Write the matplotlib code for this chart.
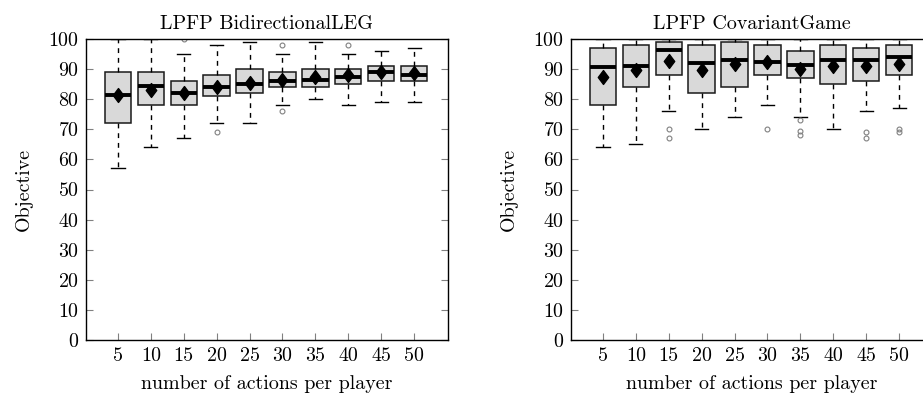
import matplotlib
matplotlib.use("Agg")
from matplotlib import pyplot as plt
from matplotlib.path import Path

plt.rcParams['font.family'] = 'serif'
plt.rcParams['font.serif'] = ['cmr10']
plt.rcParams['axes.formatter.use_mathtext'] = True

actions = [5, 10, 15, 20, 25, 30, 35, 40, 45, 50]

# LPFP BidirectionalLEG
leg_whislo = [57, 64, 67, 72, 72, 78, 80, 78, 79, 79]
leg_q1 = [72, 78, 78, 81, 82, 84, 84, 85, 86, 86]
leg_med = [81.3, 84.4, 82, 84, 85, 86, 86.5, 87.5, 89, 88.2]
leg_q3 = [89, 89, 86, 88, 90, 89, 90, 90, 91, 91]
leg_whishi = [100, 100, 95, 98, 99, 95, 99, 95, 96, 97]
leg_mean = [81.5, 83.2, 82.2, 84, 85.4, 86.3, 87.3, 87.9, 88.9, 88.6]
leg_fliers = [[], [], [100], [69], [], [98, 76], [], [98], [], []]

# LPFP CovariantGame
cov_whislo = [64, 65, 76, 70, 74, 78, 74, 70, 76, 77]
cov_q1 = [78, 84, 88, 82, 84, 88, 87, 85, 86, 88]
cov_med = [90.6, 91.1, 96.2, 92, 93, 92.5, 91.5, 93, 93, 94]
cov_q3 = [97, 98, 99, 98, 99, 98, 96, 98, 97, 98]
cov_whishi = [100, 100, 100, 100, 100, 100, 100, 100, 100, 100]
cov_mean = [87.3, 89.8, 92.8, 89.7, 91.8, 92.3, 89.9, 91.1, 90.9, 91.6]
cov_fliers = [[], [], [70, 67], [], [], [70], [73, 69.5, 68], [], [69, 67], [70, 69]]

diamond = Path([(0, 1), (0.75, 0), (0, -1), (-0.75, 0), (0, 1)],
               [Path.MOVETO, Path.LINETO, Path.LINETO, Path.LINETO, Path.CLOSEPOLY])

FS = 14.4


def draw(ax, title, whislo, q1, med, q3, whishi, mean, fliers):
    stats = []
    for i in range(len(actions)):
        stats.append({'whislo': whislo[i], 'q1': q1[i], 'med': med[i], 'q3': q3[i],
                      'whishi': whishi[i], 'mean': mean[i], 'fliers': fliers[i],
                      'label': str(actions[i])})
    pos = list(range(1, len(actions) + 1))
    ax.bxp(stats, positions=pos, widths=0.8, patch_artist=True, showmeans=True,
           boxprops=dict(facecolor='#d9d9d9', edgecolor='#1a1a1a', linewidth=1.1),
           medianprops=dict(color='black', linewidth=2.8),
           whiskerprops=dict(color='black', linewidth=1.0, linestyle=(0, (3.5, 3.5))),
           capprops=dict(color='black', linewidth=1.0),
           capwidths=0.4,
           meanprops=dict(marker=diamond, markerfacecolor='black', markeredgecolor='black',
                          markersize=10),
           flierprops=dict(marker='o', markerfacecolor='none', markeredgecolor='#808080',
                           markersize=3.5, markeredgewidth=0.8))
    ax.set_xlim(0.03, 11.03)
    ax.set_ylim(0, 100)
    ax.set_yticks(range(0, 101, 10))
    ax.set_xticks(pos)
    ax.set_xticklabels([str(a) for a in actions])
    ax.tick_params(axis='both', direction='in', length=5, width=0.8, color='#808080',
                   labelsize=FS, pad=5)
    ax.tick_params(axis='y', right=True)
    for s in ax.spines.values():
        s.set_linewidth(1.0)
    ax.set_title(title, fontsize=FS, pad=7)
    ax.set_xlabel('number of actions per player', fontsize=FS, labelpad=7)
    ax.set_ylabel('Objective', fontsize=FS, labelpad=11)


fig = plt.figure(figsize=(9.23, 3.98), dpi=100)
ax1 = fig.add_axes([86 / 923, 58 / 398, 362 / 923, 301 / 398])
ax2 = fig.add_axes([571 / 923, 58 / 398, 362 / 923, 301 / 398])
draw(ax1, 'LPFP BidirectionalLEG', leg_whislo, leg_q1, leg_med, leg_q3, leg_whishi, leg_mean, leg_fliers)
draw(ax2, 'LPFP CovariantGame', cov_whislo, cov_q1, cov_med, cov_q3, cov_whishi, cov_mean, cov_fliers)

fig.savefig('out.png', dpi=100)
